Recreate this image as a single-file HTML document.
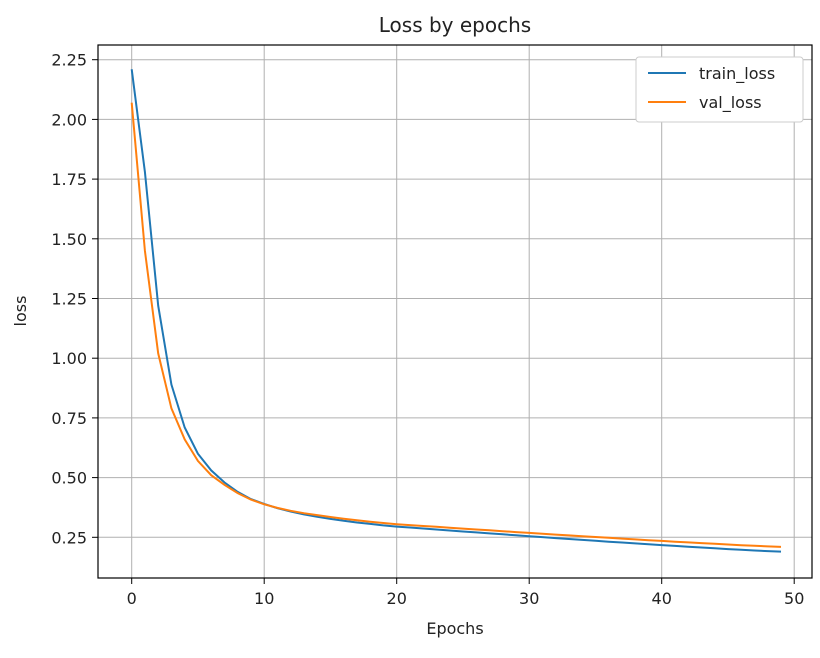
<!DOCTYPE html>
<html><head><meta charset="utf-8"><style>
body{margin:0;background:#fff;font-family:"Liberation Sans","DejaVu Sans",sans-serif;}
svg text{font-family:"DejaVu Sans","Liberation Sans",sans-serif;fill:#222;}
</style></head><body>
<svg id="s" width="820" height="653" xmlns="http://www.w3.org/2000/svg">
<rect width="820" height="653" fill="#fff"/>
<g id="grid" stroke="#b0b0b0" stroke-width="1"></g>
<path id="tr" fill="none" stroke="#1f77b4" stroke-width="2"/>
<path id="va" fill="none" stroke="#ff7f0e" stroke-width="2"/>
<rect x="98" y="45" width="714" height="533" fill="none" stroke="#000" stroke-width="1.2"/>
<g id="ticks" stroke="#000" stroke-width="1"></g>
<g id="labels" font-size="16"></g>
<text x="455" y="32" font-size="20" text-anchor="middle">Loss by epochs</text>
<text x="455" y="634" font-size="16" text-anchor="middle">Epochs</text>
<text x="26" y="311" font-size="16" text-anchor="middle" transform="rotate(-90 26 311)">loss</text>
<rect x="636" y="57" width="167" height="65" fill="#fff" stroke="#ccc" rx="3"/>
<line x1="648" y1="73" x2="686" y2="73" stroke="#1f77b4" stroke-width="2"/>
<text x="699" y="79" font-size="16">train_loss</text>
<line x1="648" y1="102" x2="686" y2="102" stroke="#ff7f0e" stroke-width="2"/>
<text x="699" y="108" font-size="16">val_loss</text>
</svg>
<script>
const X=v=>131.7+v*13.25, Y=v=>59.7+(2.25-v)*238.8;
const g=document.getElementById('grid'),t=document.getElementById('ticks'),l=document.getElementById('labels');
const NS='http://www.w3.org/2000/svg';
function el(p,n,a,txt){const e=document.createElementNS(NS,n);for(const k in a)e.setAttribute(k,a[k]);if(txt)e.textContent=txt;p.appendChild(e);}
for(let i=0;i<=50;i+=10){const x=X(i);el(g,'line',{x1:x,x2:x,y1:45,y2:578});el(t,'line',{x1:x,x2:x,y1:578,y2:584});el(l,'text',{x:x,y:604,'text-anchor':'middle'},String(i));}
for(let v=0.25;v<=2.26;v+=0.25){const y=Y(v);el(g,'line',{x1:98,x2:812,y1:y,y2:y});el(t,'line',{x1:92,x2:98,y1:y,y2:y});el(l,'text',{x:87,y:y+6,'text-anchor':'end'},v.toFixed(2));}
const trh=[2.21,1.78,1.22,0.89,0.71,0.60,0.53,0.48,0.44,0.41,0.39,0.372,0.358,0.346,0.336,0.327,0.319,0.312,0.306,0.300,0.295];
const vah=[2.07,1.45,1.02,0.79,0.66,0.57,0.51,0.47,0.435,0.408,0.388,0.373,0.361,0.351,0.343,0.335,0.328,0.321,0.315,0.310,0.305];
function ext(a,end){const s=a[a.length-1];const out=a.slice();for(let i=21;i<50;i++){const f=(i-20)/29;out.push(s+(end-s)*(1-Math.pow(1-f,1.15)));}return out;}
const tr=ext(trh,0.19),va=ext(vah,0.21);
const p=a=>a.map((v,i)=>(i?'L':'M')+X(i).toFixed(1)+' '+Y(v).toFixed(1)).join('');
document.getElementById('tr').setAttribute('d',p(tr));
document.getElementById('va').setAttribute('d',p(va));
</script>
</body></html>
